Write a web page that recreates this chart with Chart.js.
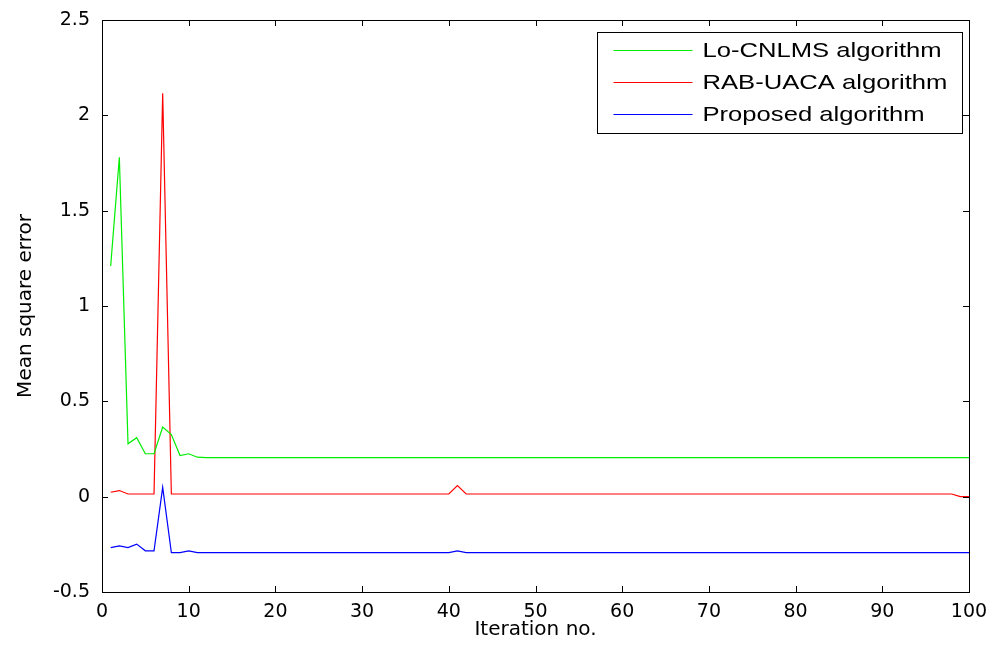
<!DOCTYPE html>
<html>
<head>
<meta charset="utf-8">
<script src="https://cdn.jsdelivr.net/npm/chart.js@4.4.1/dist/chart.umd.min.js"></script>
<style>
  html, body { margin: 0; padding: 0; background: #fff; }
  #wrap { width: 993px; height: 649px; }
</style>
</head>
<body>
<div id="wrap"><canvas id="mse"></canvas></div>
<script>
// iteration index 1..100 (x categories)
const iterations = Array.from({ length: 100 }, (_, i) => i + 1);

const xTicks = [0, 10, 20, 30, 40, 50, 60, 70, 80, 90, 100];
const yTicks = [-0.5, 0, 0.5, 1, 1.5, 2, 2.5];

const seriesNames = ['Lo-CNLMS algorithm', 'RAB-UACA algorithm', 'Proposed algorithm'];
const seriesColors = ['#00ee00', '#ff0000', '#0000ff'];

const loCnlms = [
  1.21, 1.78, 0.277, 0.309, 0.225, 0.225, 0.365, 0.326, 0.216, 0.225,
  0.207, 0.205, 0.205, 0.205, 0.205, 0.205, 0.205, 0.205, 0.205, 0.205,
  0.205, 0.205, 0.205, 0.205, 0.205, 0.205, 0.205, 0.205, 0.205, 0.205,
  0.205, 0.205, 0.205, 0.205, 0.205, 0.205, 0.205, 0.205, 0.205, 0.205,
  0.205, 0.205, 0.205, 0.205, 0.205, 0.205, 0.205, 0.205, 0.205, 0.205,
  0.205, 0.205, 0.205, 0.205, 0.205, 0.205, 0.205, 0.205, 0.205, 0.205,
  0.205, 0.205, 0.205, 0.205, 0.205, 0.205, 0.205, 0.205, 0.205, 0.205,
  0.205, 0.205, 0.205, 0.205, 0.205, 0.205, 0.205, 0.205, 0.205, 0.205,
  0.205, 0.205, 0.205, 0.205, 0.205, 0.205, 0.205, 0.205, 0.205, 0.205,
  0.205, 0.205, 0.205, 0.205, 0.205, 0.205, 0.205, 0.205, 0.205, 0.205
];

const rabUaca = [
  0.023, 0.032, 0.014, 0.014, 0.014, 0.014, 2.116, 0.014, 0.014, 0.014,
  0.014, 0.014, 0.014, 0.014, 0.014, 0.014, 0.014, 0.014, 0.014, 0.014,
  0.014, 0.014, 0.014, 0.014, 0.014, 0.014, 0.014, 0.014, 0.014, 0.014,
  0.014, 0.014, 0.014, 0.014, 0.014, 0.014, 0.014, 0.014, 0.014, 0.014,
  0.058, 0.014, 0.014, 0.014, 0.014, 0.014, 0.014, 0.014, 0.014, 0.014,
  0.014, 0.014, 0.014, 0.014, 0.014, 0.014, 0.014, 0.014, 0.014, 0.014,
  0.014, 0.014, 0.014, 0.014, 0.014, 0.014, 0.014, 0.014, 0.014, 0.014,
  0.014, 0.014, 0.014, 0.014, 0.014, 0.014, 0.014, 0.014, 0.014, 0.014,
  0.014, 0.014, 0.014, 0.014, 0.014, 0.014, 0.014, 0.014, 0.014, 0.014,
  0.014, 0.014, 0.014, 0.014, 0.014, 0.014, 0.014, 0.014, 0.000, 0.000
];

const proposed = [
  -0.267, -0.258, -0.267, -0.249, -0.284, -0.284, 0.049, -0.293, -0.293, -0.284,
  -0.293, -0.293, -0.293, -0.293, -0.293, -0.293, -0.293, -0.293, -0.293, -0.293,
  -0.293, -0.293, -0.293, -0.293, -0.293, -0.293, -0.293, -0.293, -0.293, -0.293,
  -0.293, -0.293, -0.293, -0.293, -0.293, -0.293, -0.293, -0.293, -0.293, -0.293,
  -0.284, -0.293, -0.293, -0.293, -0.293, -0.293, -0.293, -0.293, -0.293, -0.293,
  -0.293, -0.293, -0.293, -0.293, -0.293, -0.293, -0.293, -0.293, -0.293, -0.293,
  -0.293, -0.293, -0.293, -0.293, -0.293, -0.293, -0.293, -0.293, -0.293, -0.293,
  -0.293, -0.293, -0.293, -0.293, -0.293, -0.293, -0.293, -0.293, -0.293, -0.293,
  -0.293, -0.293, -0.293, -0.293, -0.293, -0.293, -0.293, -0.293, -0.293, -0.293,
  -0.293, -0.293, -0.293, -0.293, -0.293, -0.293, -0.293, -0.293, -0.293, -0.293
];

const FONT = '"DejaVu Sans", "Liberation Sans", Arial, sans-serif';
const LEGEND_FONT = '"Liberation Sans", Arial, sans-serif';

function toPoints(values) {
  return values.map((v, i) => ({ x: iterations[i], y: v }));
}

// MATLAB style frame: box + inward ticks on all four sides, legend top-right
const matlabFrame = {
  id: 'matlabFrame',
  afterDatasetsDraw(chart) {
    const { ctx, chartArea: a, scales } = chart;
    const len = 6;
    ctx.save();
    ctx.strokeStyle = '#000';
    ctx.lineWidth = 1;
    ctx.beginPath();
    xTicks.forEach(t => {
      const px = Math.round(scales.x.getPixelForValue(t)) + 0.5;
      ctx.moveTo(px, a.bottom); ctx.lineTo(px, a.bottom - len);
      ctx.moveTo(px, a.top); ctx.lineTo(px, a.top + len);
    });
    yTicks.forEach(t => {
      const py = Math.round(scales.y.getPixelForValue(t)) + 0.5;
      ctx.moveTo(a.left, py); ctx.lineTo(a.left + len, py);
      ctx.moveTo(a.right, py); ctx.lineTo(a.right - len, py);
    });
    ctx.stroke();
    ctx.strokeRect(Math.round(a.left) + 0.5, Math.round(a.top) + 0.5,
      Math.round(a.right - a.left), Math.round(a.bottom - a.top));

    // legend
    const bw = 365, bh = 101;
    const bx = Math.round(a.right - 7 - bw) + 0.5;
    const by = Math.round(a.top + 12) + 0.5;
    ctx.fillStyle = '#fff';
    ctx.fillRect(bx, by, bw, bh);
    ctx.strokeRect(bx, by, bw, bh);
    seriesNames.forEach((name, i) => {
      const ry = by + 18 + i * 32;
      ctx.strokeStyle = seriesColors[i];
      ctx.lineWidth = 1.2;
      ctx.beginPath();
      ctx.moveTo(bx + 16, ry);
      ctx.lineTo(bx + 95, ry);
      ctx.stroke();
    });
    ctx.font = '21px ' + LEGEND_FONT;
    ctx.textBaseline = 'middle';
    ctx.fillStyle = '#000';
    seriesNames.forEach((name, i) => {
      const ry = by + 18 + i * 32;
      // the source image is stretched horizontally, so is the text
      ctx.save();
      ctx.translate(bx + 105, ry + 1);
      ctx.scale(1.22, 1);
      ctx.fillText(name, 0, 0);
      ctx.restore();
    });
    ctx.restore();
  }
};

new Chart(document.getElementById('mse'), {
  type: 'line',
  data: {
    datasets: [
      { label: seriesNames[0], data: toPoints(loCnlms), borderColor: seriesColors[0] },
      { label: seriesNames[1], data: toPoints(rabUaca), borderColor: seriesColors[1] },
      { label: seriesNames[2], data: toPoints(proposed), borderColor: seriesColors[2] }
    ]
  },
  options: {
    responsive: true,
    maintainAspectRatio: false,
    animation: false,
    events: [],
    layout: { padding: { top: 20, right: 24, left: 0, bottom: 0 } },
    elements: {
      line: { borderWidth: 1.2, tension: 0 },
      point: { radius: 0 }
    },
    plugins: {
      legend: { display: false },
      tooltip: { enabled: false }
    },
    scales: {
      x: {
        type: 'linear',
        min: 0,
        max: 100,
        afterFit: s => { s.height = 57; s.paddingLeft = 0; s.paddingRight = 0; },
        afterBuildTicks: s => { s.ticks = xTicks.map(v => ({ value: v })); },
        grid: { display: false, drawTicks: false },
        border: { display: false },
        ticks: { color: '#000', padding: 9, maxRotation: 0, font: { family: FONT, size: 19 } },
        title: {
          display: true,
          text: 'Iteration no.',
          color: '#000',
          padding: { top: 0, bottom: 7 },
          font: { family: FONT, size: 20 }
        }
      },
      y: {
        type: 'linear',
        min: -0.5,
        max: 2.5,
        afterFit: s => { s.width = 102; s.paddingTop = 0; s.paddingBottom = 0; },
        afterBuildTicks: s => { s.ticks = yTicks.map(v => ({ value: v })); },
        grid: { display: false, drawTicks: false },
        border: { display: false },
        ticks: {
          color: '#000',
          padding: 12,
          font: { family: FONT, size: 19 },
          callback: v => String(Math.round(v * 10) / 10)
        },
        title: {
          display: true,
          text: 'Mean square error',
          color: '#000',
          padding: { top: 14, bottom: 0 },
          font: { family: FONT, size: 20 }
        }
      }
    }
  },
  plugins: [matlabFrame]
});
</script>
</body>
</html>
